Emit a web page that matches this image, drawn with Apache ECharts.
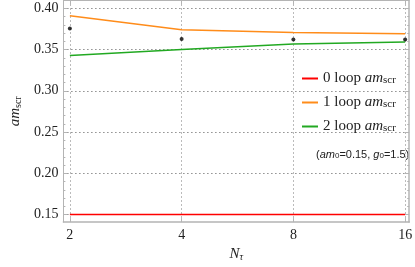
<!DOCTYPE html>
<html><head><meta charset="utf-8">
<script src="https://cdn.jsdelivr.net/npm/echarts@6/dist/echarts.min.js"></script>
<style>html,body{margin:0;padding:0;background:#fff}#c{width:415px;height:267px}</style>
</head><body><div id="c"></div>
<script>
const nTau = [2, 4, 8, 16];
const loop0 = [0.15, 0.15, 0.15, 0.15];
const loop1 = [0.391, 0.374, 0.3707, 0.3692];
const loop2 = [0.3428, 0.350, 0.3568, 0.3592];
const measured = [0.3755, 0.3628, 0.362, 0.362];
const xTicks = [2, 4, 8, 16];
const yTicks = [0.15, 0.20, 0.25, 0.30, 0.35, 0.40];
const yMinorTicks = [0.16,0.17,0.18,0.19,0.21,0.22,0.23,0.24,0.26,0.27,0.28,0.29,0.31,0.32,0.33,0.34,0.36,0.37,0.38,0.39];
const seriesNames = ['0 loop', '1 loop', '2 loop'];

const SERIF = 'Liberation Serif';
const frameColor = '#b4b4b4';
const xMin = 1.9214, xMax = 16.41, yMin = 0.1409, yMax = 0.4094;
const pairs = (ys) => nTau.map((x, i) => [x, ys[i]]);

const chart = echarts.init(document.getElementById('c'), null, {renderer: 'canvas'});
const baseY = {type: 'value', min: yMin, max: yMax, scale: true};
const baseX = {type: 'log', logBase: 2, min: xMin, max: xMax};
chart.setOption({
  animation: false,
  grid: {left: 51, right: 4, top: 0.5, bottom: 42.7, containLabel: false},
  xAxis: [
    Object.assign({}, baseX, {
      position: 'bottom',
      name: '{i|N}{s|τ}', nameLocation: 'middle', nameGap: 16,
      nameTextStyle: {fontFamily: SERIF, color: '#222', rich: {
        i: {fontFamily: SERIF, fontStyle: 'italic', fontSize: 15, color: '#222', verticalAlign: 'bottom'},
        s: {fontFamily: SERIF, fontStyle: 'italic', fontSize: 10, color: '#222', verticalAlign: 'bottom', lineHeight: 6}}},
      axisLine: {show: true, lineStyle: {color: frameColor, width: 1.5}},
      axisTick: {show: true, inside: true, length: 4, customValues: xTicks, lineStyle: {color: frameColor}},
      axisLabel: {customValues: xTicks, fontFamily: SERIF, fontSize: 14, color: '#222', margin: 6, formatter: v => String(Math.round(v))},
      splitLine: {show: true, lineStyle: {color: '#777', type: [1, 3], width: 1}},
      minorTick: {show: false}
    }),
    Object.assign({}, baseX, {
      position: 'top',
      axisLine: {show: true, lineStyle: {color: frameColor, width: 1}},
      axisTick: {show: true, inside: true, length: 4, customValues: xTicks, lineStyle: {color: frameColor}},
      axisLabel: {show: false},
      splitLine: {show: false}
    })
  ],
  yAxis: [
    Object.assign({}, baseY, {
      position: 'left',
      name: '{i|am}{s|scr}', nameLocation: 'middle', nameGap: 37, nameRotate: 90,
      nameTextStyle: {fontFamily: SERIF, color: '#222', rich: {
        i: {fontFamily: SERIF, fontStyle: 'italic', fontSize: 15, color: '#222', verticalAlign: 'bottom'},
        s: {fontFamily: SERIF, fontSize: 10, color: '#222', verticalAlign: 'bottom', lineHeight: 6}}},
      axisLine: {show: true, lineStyle: {color: frameColor, width: 1}},
      axisTick: {show: true, inside: true, length: 4, customValues: yTicks, lineStyle: {color: frameColor}},
      axisLabel: {customValues: yTicks, fontFamily: SERIF, fontSize: 14, color: '#222', margin: 5, formatter: v => v.toFixed(2)},
      splitLine: {show: true, lineStyle: {color: '#555', type: [1, 3], width: 1}}
    }),
    Object.assign({}, baseY, {
      position: 'left',
      axisLine: {show: false},
      axisTick: {show: true, inside: true, length: 2, customValues: yMinorTicks, lineStyle: {color: frameColor}},
      axisLabel: {show: false},
      splitLine: {show: false}
    }),
    Object.assign({}, baseY, {
      position: 'right',
      axisLine: {show: true, lineStyle: {color: frameColor, width: 1.5}},
      axisTick: {show: true, inside: true, length: 4, customValues: yTicks, lineStyle: {color: frameColor}},
      axisLabel: {show: false},
      splitLine: {show: false}
    }),
    Object.assign({}, baseY, {
      position: 'right',
      axisLine: {show: false},
      axisTick: {show: true, inside: true, length: 2, customValues: yMinorTicks, lineStyle: {color: frameColor}},
      axisLabel: {show: false},
      splitLine: {show: false}
    })
  ],
  legend: {
    orient: 'vertical', left: 297, top: 66, itemGap: 9,
    itemWidth: 16, itemHeight: 2, icon: 'rect',
    data: seriesNames,
    formatter: name => name + ' {i|am}{s|scr}',
    textStyle: {fontFamily: SERIF, fontSize: 15, color: '#222', rich: {
      i: {fontFamily: SERIF, fontStyle: 'italic', fontSize: 15, color: '#222', verticalAlign: 'bottom'},
      s: {fontFamily: SERIF, fontSize: 11, color: '#222', verticalAlign: 'bottom', lineHeight: 6}}}
  },
  graphic: [{
    type: 'text', left: 316, top: 149,
    style: {
      text: '({i|am}{s|0}=0.15, {i|g}{s|0}=1.5)',
      font: '11px "Liberation Sans"', fill: '#222',
      rich: {
        i: {fontFamily: 'Liberation Sans', fontStyle: 'italic', fontSize: 11, fill: '#222', verticalAlign: 'bottom'},
        s: {fontFamily: 'Liberation Sans', fontSize: 8, fill: '#222', verticalAlign: 'bottom', lineHeight: 5}
      }
    }
  }],
  series: [
    {name: seriesNames[0], type: 'line', data: pairs(loop0), symbol: 'none', color: '#ff0000', lineStyle: {width: 1.5}},
    {name: seriesNames[1], type: 'line', data: pairs(loop1), symbol: 'none', color: '#ff8c1a', lineStyle: {width: 1.5}},
    {name: seriesNames[2], type: 'line', data: pairs(loop2), symbol: 'none', color: '#22a922', lineStyle: {width: 1.5}},
    {name: 'data', type: 'scatter', data: pairs(measured), symbol: 'circle', symbolSize: 4, color: '#000', z: 5}
  ]
});
</script>
</body></html>
